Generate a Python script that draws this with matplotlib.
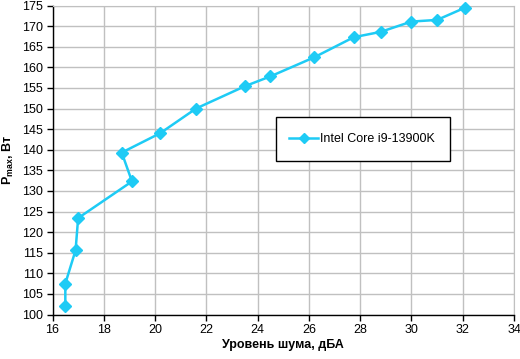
import matplotlib
matplotlib.use("Agg")
import matplotlib.pyplot as plt
from matplotlib.patches import Rectangle

# noise level (dBA) vs max power (W)
noise = [16.5, 16.5, 16.9, 17.0, 19.1, 18.7, 20.2, 21.6, 23.5, 24.5,
         26.2, 27.75, 28.8, 30.0, 31.0, 32.1]
power = [102.0, 107.5, 115.6, 123.4, 132.3, 139.3, 144.0, 150.0, 155.4, 157.8,
         162.4, 167.3, 168.6, 171.1, 171.5, 174.5]
series_name = "Intel Core i9-13900K"
xticks = list(range(16, 35, 2))
yticks = list(range(100, 176, 5))

plt.rcParams['font.family'] = ['Liberation Sans', 'DejaVu Sans']
plt.rcParams['font.size'] = 9

W, H = 520, 359
fig = plt.figure(figsize=(5.2, 3.59), dpi=100)
ax = fig.add_axes([52.5 / W, 1 - 314.5 / H, (514 - 52.5) / W, (314.5 - 5.5) / H])

color = '#1ECBF5'
ax.plot(noise, power, color=color, linewidth=1.8, marker='D', markersize=6,
        markeredgecolor=color, label=series_name, clip_on=False, zorder=3)

ax.set_xlim(16, 34)
ax.set_ylim(100, 175)
ax.set_xticks(xticks)
ax.set_yticks(yticks)
ax.grid(True, color='#C0C0C0', linewidth=1)
ax.set_axisbelow(True)

for side in ['top', 'right']:
    ax.spines[side].set_color('#C0C0C0')
for side in ['left', 'bottom']:
    ax.spines[side].set_color('black')
    ax.spines[side].set_linewidth(1)
ax.tick_params(direction='out', length=4, width=1, colors='black', pad=3)

ax.set_xlabel('Уровень шума, дБА', fontweight='bold', labelpad=2)
ax.set_ylabel(r'P$_{\mathregular{max}}$, Вт', fontweight='bold', labelpad=4)

# legend box (drawn by hand so it can be taller than the text)
box = Rectangle((275.5 / W, 1 - 161 / H), (449.5 - 275.5) / W, (161 - 117.5) / H,
                transform=fig.transFigure, facecolor='white', edgecolor='black',
                linewidth=1, zorder=4, clip_on=False)
ax.add_patch(box)
leg = ax.legend(loc='center left', bbox_to_anchor=((283 - 52.5) / 461.5, (314.5 - 139.5) / 309),
                frameon=False, borderpad=0, handlelength=2.3, handletextpad=0.2,
                markerscale=0.8)
leg.set_zorder(5)

fig.savefig('out.png', dpi=100)
